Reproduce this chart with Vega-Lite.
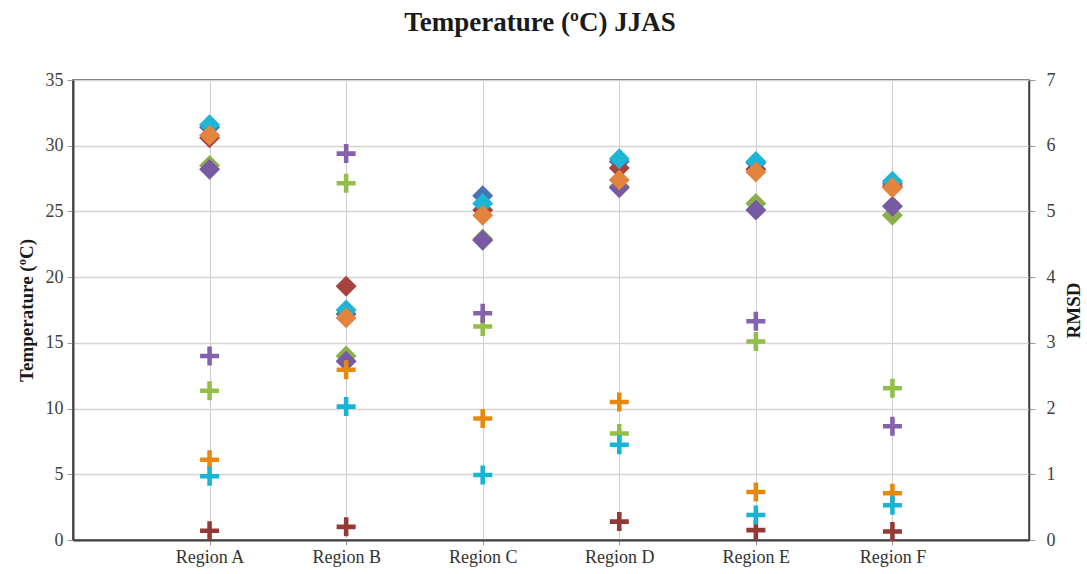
{
  "$schema": "https://vega.github.io/schema/vega-lite/v6.json",
  "width": 956,
  "height": 460,
  "autosize": {"type": "none"},
  "padding": {"left": 73, "top": 80, "right": 58, "bottom": 34},
  "background": "white",
  "config": {
    "view": {"stroke": "#404040", "strokeWidth": 1.5},
    "font": "Liberation Serif"
  },
  "title": {
    "text": "Temperature (ºC) JJAS",
    "font": "Liberation Serif",
    "fontSize": 27,
    "fontWeight": "bold",
    "color": "#1a1a1a",
    "anchor": "middle",
    "frame": "group",
    "offset": 34,
    "dx": -11
  },
  "datasets": {
    "temp": [
      {"region": "Region A", "series": "Series 1", "temperature": 31.4},
      {"region": "Region  B", "series": "Series 1", "temperature": 17.2},
      {"region": "Region C", "series": "Series 1", "temperature": 26.2},
      {"region": "Region D", "series": "Series 1", "temperature": 28.8},
      {"region": "Region  E", "series": "Series 1", "temperature": 28.7},
      {"region": "Region F", "series": "Series 1", "temperature": 27.1},
      {"region": "Region A", "series": "Series 2", "temperature": 30.6},
      {"region": "Region  B", "series": "Series 2", "temperature": 19.3},
      {"region": "Region C", "series": "Series 2", "temperature": 25.1},
      {"region": "Region D", "series": "Series 2", "temperature": 28.3},
      {"region": "Region  E", "series": "Series 2", "temperature": 28.2},
      {"region": "Region F", "series": "Series 2", "temperature": 26.9},
      {"region": "Region A", "series": "Series 3", "temperature": 28.5},
      {"region": "Region  B", "series": "Series 3", "temperature": 14.0},
      {"region": "Region C", "series": "Series 3", "temperature": 22.9},
      {"region": "Region D", "series": "Series 3", "temperature": 26.9},
      {"region": "Region  E", "series": "Series 3", "temperature": 25.6},
      {"region": "Region F", "series": "Series 3", "temperature": 24.7},
      {"region": "Region A", "series": "Series 4", "temperature": 28.2},
      {"region": "Region  B", "series": "Series 4", "temperature": 13.6},
      {"region": "Region C", "series": "Series 4", "temperature": 22.8},
      {"region": "Region D", "series": "Series 4", "temperature": 26.8},
      {"region": "Region  E", "series": "Series 4", "temperature": 25.1},
      {"region": "Region F", "series": "Series 4", "temperature": 25.4},
      {"region": "Region A", "series": "Series 5", "temperature": 31.6},
      {"region": "Region  B", "series": "Series 5", "temperature": 17.5},
      {"region": "Region C", "series": "Series 5", "temperature": 25.6},
      {"region": "Region D", "series": "Series 5", "temperature": 29.0},
      {"region": "Region  E", "series": "Series 5", "temperature": 28.8},
      {"region": "Region F", "series": "Series 5", "temperature": 27.3},
      {"region": "Region A", "series": "Series 6", "temperature": 30.8},
      {"region": "Region  B", "series": "Series 6", "temperature": 16.9},
      {"region": "Region C", "series": "Series 6", "temperature": 24.7},
      {"region": "Region D", "series": "Series 6", "temperature": 27.4},
      {"region": "Region  E", "series": "Series 6", "temperature": 28.0},
      {"region": "Region F", "series": "Series 6", "temperature": 26.8}
    ],
    "rmsd": [
      {"region": "Region A", "series": "RMSD 1", "rmsd": 0.14},
      {"region": "Region  B", "series": "RMSD 1", "rmsd": 0.20},
      {"region": "Region D", "series": "RMSD 1", "rmsd": 0.28},
      {"region": "Region  E", "series": "RMSD 1", "rmsd": 0.15},
      {"region": "Region F", "series": "RMSD 1", "rmsd": 0.13},
      {"region": "Region A", "series": "RMSD 2", "rmsd": 1.22},
      {"region": "Region  B", "series": "RMSD 2", "rmsd": 2.59},
      {"region": "Region C", "series": "RMSD 2", "rmsd": 1.85},
      {"region": "Region D", "series": "RMSD 2", "rmsd": 2.10},
      {"region": "Region  E", "series": "RMSD 2", "rmsd": 0.73},
      {"region": "Region F", "series": "RMSD 2", "rmsd": 0.71},
      {"region": "Region A", "series": "RMSD 3", "rmsd": 2.27},
      {"region": "Region  B", "series": "RMSD 3", "rmsd": 5.43},
      {"region": "Region C", "series": "RMSD 3", "rmsd": 3.25},
      {"region": "Region D", "series": "RMSD 3", "rmsd": 1.62},
      {"region": "Region  E", "series": "RMSD 3", "rmsd": 3.02},
      {"region": "Region F", "series": "RMSD 3", "rmsd": 2.31},
      {"region": "Region A", "series": "RMSD 4", "rmsd": 2.80},
      {"region": "Region  B", "series": "RMSD 4", "rmsd": 5.88},
      {"region": "Region C", "series": "RMSD 4", "rmsd": 3.45},
      {"region": "Region  E", "series": "RMSD 4", "rmsd": 3.33},
      {"region": "Region F", "series": "RMSD 4", "rmsd": 1.73},
      {"region": "Region A", "series": "RMSD 5", "rmsd": 0.97},
      {"region": "Region  B", "series": "RMSD 5", "rmsd": 2.03},
      {"region": "Region C", "series": "RMSD 5", "rmsd": 0.99},
      {"region": "Region D", "series": "RMSD 5", "rmsd": 1.45},
      {"region": "Region  E", "series": "RMSD 5", "rmsd": 0.38},
      {"region": "Region F", "series": "RMSD 5", "rmsd": 0.53}
    ]
  },
  "layer": [
    {
      "data": {"name": "temp"},
      "mark": {"type": "point", "shape": "diamond", "filled": true, "size": 440, "opacity": 1},
      "encoding": {
        "x": {
          "field": "region",
          "type": "nominal",
          "scale": {"type": "point", "padding": 1, "domain": ["Region A", "Region  B", "Region C", "Region D", "Region  E", "Region F"]},
          "axis": {
            "title": null,
            "labelAngle": 0,
            "labelFont": "Liberation Serif",
            "labelFontSize": 18,
            "labelColor": "#333333",
            "labelPadding": 3,
            "tickSize": 5,
            "tickColor": "#9a9a9a",
            "domainColor": "#404040",
            "domainWidth": 2,
            "grid": true,
            "gridColor": "#CCCCCC",
            "gridWidth": 1
          }
        },
        "y": {
          "field": "temperature",
          "type": "quantitative",
          "scale": {"domain": [0, 35], "nice": false, "zero": true},
          "axis": {
            "values": [0, 5, 10, 15, 20, 25, 30, 35],
            "title": "Temperature (ºC)",
            "titleFont": "Liberation Serif",
            "titleFontSize": 19,
            "titleFontWeight": "bold",
            "titleColor": "#1a1a1a",
            "titlePadding": 9,
            "labelFont": "Liberation Serif",
            "labelFontSize": 18,
            "labelColor": "#404040",
            "labelPadding": 4,
            "tickSize": 6,
            "tickColor": "#9a9a9a",
            "domainColor": "#404040",
            "domainWidth": 2,
            "grid": true,
            "gridColor": "#D4D4D4",
            "gridWidth": 1.5
          }
        },
        "color": {
          "field": "series",
          "type": "nominal",
          "scale": {
            "domain": ["Series 1", "Series 2", "Series 3", "Series 4", "Series 5", "Series 6"],
            "range": ["#4A72B8", "#A8423F", "#8BB04A", "#775AA4", "#1FB5D4", "#E3843E"]
          },
          "legend": null
        }
      }
    },
    {
      "data": {"name": "rmsd"},
      "mark": {"type": "point", "shape": "M-1,-0.24H1V0.24H-1Z M-0.24,-1H0.24V1H-0.24Z", "filled": true, "size": 361, "opacity": 1},
      "encoding": {
        "x": {
          "field": "region",
          "type": "nominal",
          "scale": {"type": "point", "padding": 1, "domain": ["Region A", "Region  B", "Region C", "Region D", "Region  E", "Region F"]}
        },
        "y": {
          "field": "rmsd",
          "type": "quantitative",
          "scale": {"domain": [0, 7], "nice": false, "zero": true},
          "axis": {
            "orient": "right",
            "values": [0, 1, 2, 3, 4, 5, 6, 7],
            "title": "RMSD",
            "titleAngle": 270,
            "titleFont": "Liberation Serif",
            "titleFontSize": 19,
            "titleFontWeight": "bold",
            "titleColor": "#1a1a1a",
            "titlePadding": 28,
            "labelFont": "Liberation Serif",
            "labelFontSize": 18,
            "labelColor": "#404040",
            "labelPadding": 11,
            "tickSize": 6,
            "tickColor": "#9a9a9a",
            "domainColor": "#404040",
            "domainWidth": 1.5,
            "grid": false
          }
        },
        "color": {
          "field": "series",
          "type": "nominal",
          "scale": {
            "domain": ["RMSD 1", "RMSD 2", "RMSD 3", "RMSD 4", "RMSD 5"],
            "range": ["#933A36", "#E8890E", "#92BE4A", "#8462AC", "#18B4D4"]
          },
          "legend": null
        }
      }
    }
  ],
  "resolve": {"scale": {"y": "independent", "color": "independent"}}
}
